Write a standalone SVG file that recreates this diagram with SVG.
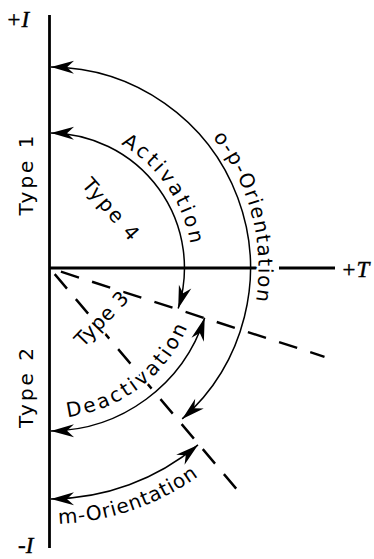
<svg xmlns="http://www.w3.org/2000/svg" width="374" height="559" viewBox="0 0 374 559">
<style>
.axis{stroke:#000;stroke-width:2.8;fill:none;stroke-linecap:butt}
.dash{stroke:#000;stroke-width:2.4;fill:none;stroke-dasharray:19 13.75}
.arc{stroke:#000;stroke-width:1.5;fill:none;marker-start:url(#ah);marker-end:url(#ah)}
.lbl{font-family:"DejaVu Sans",sans-serif;font-size:20px;fill:#000;stroke:#fff;stroke-width:4.5;paint-order:stroke;stroke-linejoin:round}
.ax{font-family:"Liberation Serif",serif;font-style:italic;font-size:23px;fill:#000;stroke:#000;stroke-width:0.4}
</style>
<defs>
<marker id="ah" viewBox="-25 -8 27 16" refX="0" refY="0" markerWidth="27" markerHeight="16" markerUnits="userSpaceOnUse" orient="auto-start-reverse" overflow="visible">
<path d="M0,0 L-23,-6.5 L-16,0 L-23,6.5 Z" fill="#000"/>
</marker>
<path id="tpAct" d="M121,144.16 A143,143 0 0 1 192.5,268"/>
<path id="tpOP" d="M197.3,120.2 A209,209 0 0 1 245.9,339.5"/>
<path id="tpDe" d="M49.5,418 A150,150 0 0 0 194.4,306.8"/>
<path id="tpM" d="M49.5,524 A256,256 0 0 0 230.5,449"/>
</defs>
<rect width="374" height="559" fill="#fff"/>
<g id="axes">
<line class="axis" x1="49.5" y1="15" x2="49.5" y2="548"/>
<line class="axis" x1="49.5" y1="268" x2="259" y2="268"/>
<line class="axis" x1="279" y1="268" x2="335" y2="268"/>
<text class="ax" x="6" y="27">+I</text>
<text class="ax" x="18" y="553">-I</text>
<text class="ax" x="341" y="277">+T</text>
</g>
<g id="connectors">
<line class="dash" x1="60.9" y1="271.7" x2="324.5" y2="356.8"/>
<line class="dash" x1="54.7" y1="274.1" x2="236.5" y2="489"/>
<path id="arc-op" class="arc" d="M51,67 A201,201 0 0 1 182.2,418.9"/>
<path id="arc-act" class="arc" d="M51,133 A135,135 0 0 1 178.2,308.6"/>
<path id="arc-deact" class="arc" d="M204.7,317.8 A163,163 0 0 1 51,431"/>
<path id="arc-m" class="arc" d="M198,444.9 A231,231 0 0 1 51,499"/>
</g>
<g id="type1"><text class="lbl" transform="translate(33,174) rotate(-90)" text-anchor="middle" letter-spacing="3">Type 1</text></g>
<g id="type2"><text class="lbl" transform="translate(33,386.5) rotate(-90)" text-anchor="middle" letter-spacing="3">Type 2</text></g>
<g id="type4"><text class="lbl" transform="translate(106.2,214.3) rotate(49)" text-anchor="middle" letter-spacing="2">Type 4</text></g>
<g id="type3"><text class="lbl" transform="translate(106.6,323.5) rotate(-46)" text-anchor="middle" letter-spacing="0.5">Type 3</text></g>
<g id="label-activation"><text class="lbl" letter-spacing="2.8"><textPath href="#tpAct" startOffset="0">Activation</textPath></text></g>
<g id="label-op"><text class="lbl" letter-spacing="1.5"><textPath href="#tpOP" startOffset="23">o-p-Orientation</textPath></text></g>
<g id="label-deactivation"><text class="lbl" letter-spacing="2.7"><textPath href="#tpDe" startOffset="18">Deactivation</textPath></text></g>
<g id="label-m"><text class="lbl" letter-spacing="0.8"><textPath href="#tpM" startOffset="9">m-Orientation</textPath></text></g>
</svg>
